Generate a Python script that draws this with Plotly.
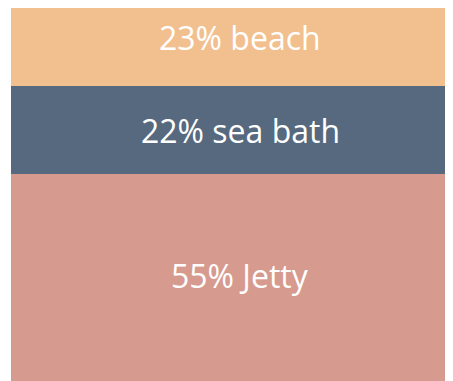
import plotly.graph_objects as go

categories = ["Jetty", "sea bath", "beach"]
values = [55, 22, 23]
colors = ["#D69A8E", "#56697E", "#F2BF8F"]
label_yshift = [9, 0, 3]

fig = go.Figure()
cum = 0
for cat, val, col, ys in zip(categories, values, colors, label_yshift):
    fig.add_trace(go.Bar(x=[0], y=[val], name=cat, marker=dict(color=col, line=dict(width=0)),
                         width=1, hoverinfo="skip"))
    fig.add_annotation(x=0, y=cum + val / 2, text=f"{val}% {cat}", showarrow=False,
                       font=dict(family="Open Sans", size=32, color="white"),
                       xref="x", yref="y", yshift=ys, xshift=4)
    cum += val

fig.update_layout(
    barmode="stack",
    width=453, height=381,
    margin=dict(l=3, r=0, t=0, b=0),
    paper_bgcolor="white", plot_bgcolor="white",
    showlegend=False,
    bargap=0,
    xaxis=dict(visible=False, range=[-0.5, 0.5], fixedrange=True),
    yaxis=dict(visible=False, range=[1.25, 96.5], fixedrange=True),
)
fig.write_html("out.html")
